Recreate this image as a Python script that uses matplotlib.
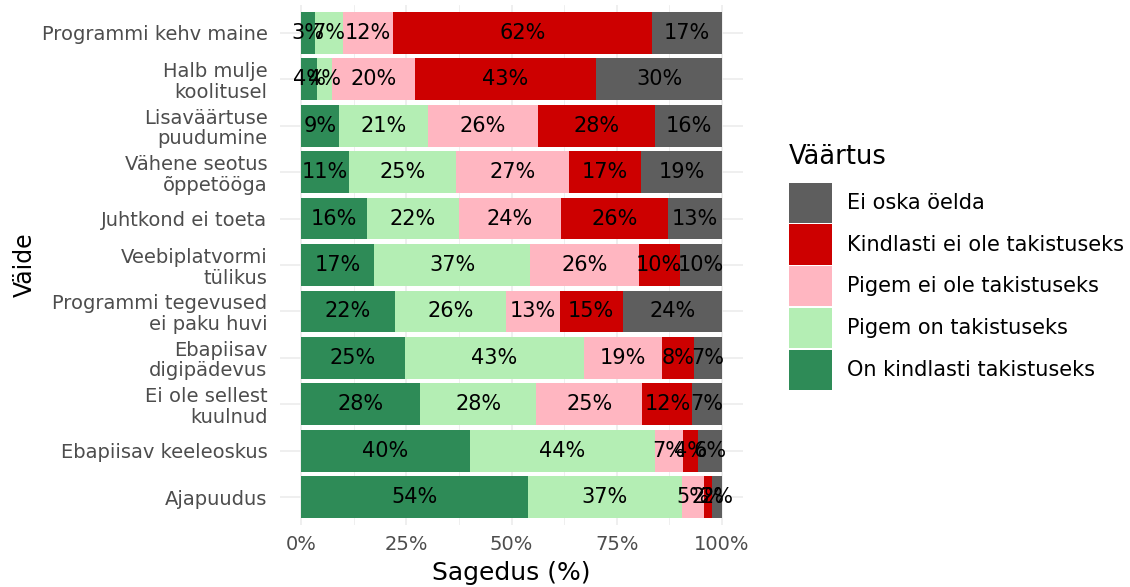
import numpy as np
import matplotlib
matplotlib.use('Agg')
import matplotlib.pyplot as plt
from matplotlib.patches import Patch

plt.rcParams['font.family'] = ['DejaVu Sans']

# Data (percent of answers per statement)
statements = ['Programmi kehv maine', 'Halb mulje\nkoolitusel', 'Lisaväärtuse\npuudumine',
              'Vähene seotus\nõppetööga', 'Juhtkond ei toeta', 'Veebiplatvormi\ntülikus',
              'Programmi tegevused\nei paku huvi', 'Ebapiisav\ndigipädevus',
              'Ei ole sellest\nkuulnud', 'Ebapiisav keeleoskus', 'Ajapuudus']

on_kindlasti = [3.3, 3.8, 9.0, 11.4, 15.6, 17.4, 22.3, 24.6, 28.3, 40.1, 53.9]
pigem_on = [6.6, 3.6, 21.2, 25.4, 22.0, 37.0, 26.4, 42.6, 27.6, 44.0, 36.6]
pigem_ei_ole = [11.9, 19.7, 26.1, 26.9, 24.1, 25.8, 12.8, 18.6, 25.2, 6.6, 5.3]
kindlasti_ei_ole = [61.6, 43.0, 27.8, 17.1, 25.6, 9.8, 14.9, 7.6, 11.9, 3.6, 1.8]
ei_oska = [16.6, 29.9, 15.9, 19.2, 12.7, 10.0, 23.6, 6.6, 7.0, 5.7, 2.4]

series = [
    ('On kindlasti takistuseks', on_kindlasti, '#2E8B57'),
    ('Pigem on takistuseks', pigem_on, '#B4EEB4'),
    ('Pigem ei ole takistuseks', pigem_ei_ole, '#FFB6C1'),
    ('Kindlasti ei ole takistuseks', kindlasti_ei_ole, '#CD0000'),
    ('Ei oska öelda', ei_oska, '#5E5E5E'),
]

W, H = 1130, 587
fig = plt.figure(figsize=(W / 100, H / 100), dpi=100)
ax = fig.add_axes([280 / W, (H - 525) / H, (743 - 280) / W, 520 / H])

y = np.arange(len(statements))
left = np.zeros(len(statements))
for name, vals, color in series:
    vals = np.array(vals)
    bars = ax.barh(y, vals, left=left, height=0.9, color=color, zorder=2)
    ax.bar_label(bars, labels=[f'{v:.0f}%' for v in vals], label_type='center',
                 fontsize=15, color='black', zorder=3)
    left += vals

ax.set_xlim(-5, 105)
ax.set_ylim(len(statements) - 0.4, -0.6)
ax.set_yticks(y)
ax.set_yticklabels(statements, linespacing=1.1)
ax.set_xticks([0, 25, 50, 75, 100])
ax.set_xticklabels(['0%', '25%', '50%', '75%', '100%'])
ax.set_xticks([12.5, 37.5, 62.5, 87.5], minor=True)
ax.tick_params(axis='both', which='both', length=0, labelsize=14, labelcolor='#4D4D4D')
ax.tick_params(axis='y', pad=9)
ax.tick_params(axis='x', pad=7)
ax.grid(True, which='major', color='#EBEBEB', linewidth=1.1, zorder=0)
ax.grid(True, which='minor', axis='x', color='#EBEBEB', linewidth=0.55, zorder=0)
ax.set_axisbelow(True)
for s in ax.spines.values():
    s.set_visible(False)

ax.set_xlabel('Sagedus (%)', fontsize=18, va='center')
ax.xaxis.set_label_coords(0.5, -48 / 520)
ax.set_ylabel('Väide', fontsize=17, va='center')
ax.yaxis.set_label_coords((25 - 280) / 463, 0.5)

handles = [Patch(facecolor=c, edgecolor='none') for _, _, c in series[::-1]]
labels = [n for n, _, _ in series[::-1]]
leg = fig.legend(handles, labels, title='Väärtus', loc='upper left',
                 bbox_to_anchor=(789 / W, 1 - 144 / H), frameon=False, borderaxespad=0,
                 fontsize=15, title_fontsize=18.5, handlelength=2.05, handleheight=2.6,
                 labelspacing=0.07, handletextpad=0.75, borderpad=0, alignment='left')
leg._legend_box.sep = 9

fig.savefig('out.png', dpi=100)
